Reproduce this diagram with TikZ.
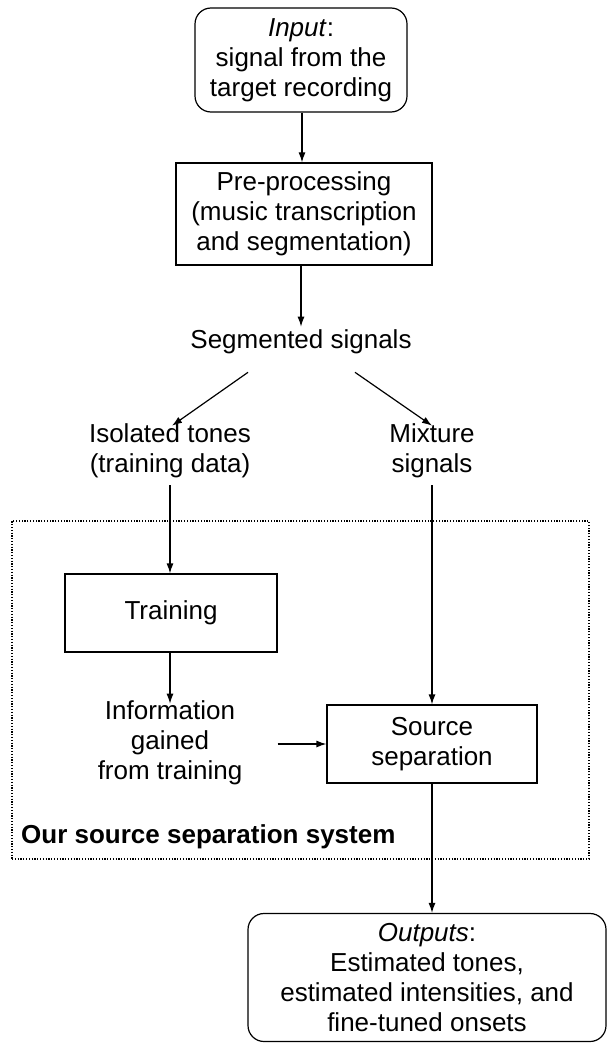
\documentclass[tikz,border=0pt]{standalone}
\usepackage{fontspec}
\setmainfont{Liberation Sans}
\usetikzlibrary{arrows.meta}
\begin{document}
\begin{tikzpicture}[x=1pt,y=-1pt,
  every node/.style={font=\fontsize{26}{30}\selectfont, align=center, inner sep=3pt},
  sqbox/.style={draw, line width=1.2pt},
  rbox/.style={draw, line width=1.2pt, rounded corners=16pt},
  dotbox/.style={draw, line width=1.3pt, dash pattern=on 1.2pt off 1.6pt},
  arr/.style={line width=1.2pt, -{Latex[length=10pt,width=7pt]}}]
\useasboundingbox (0,0) rectangle (608,1043);
\node[rbox, minimum width=212pt, minimum height=104pt] (in) at (301,60) {\textit{Input}:\\signal from the\\target recording};
\node[sqbox, minimum width=256pt, minimum height=102pt] (pre) at (304,214) {Pre-processing\\(music transcription\\and segmentation)};
\node (seg) at (301,342) {Segmented signals};
\node (iso) at (170,451) {Isolated tones\\(training data)};
\node (mix) at (432,451) {Mixture\\signals};
\node[dotbox, minimum width=577pt, minimum height=338pt] (system) at (300.5,690) {};
\node[sqbox, minimum width=212pt, minimum height=78pt] (train) at (171,613) {Training};
\node (info) at (170,743) {Information\\gained\\from training};
\node[sqbox, minimum width=210pt, minimum height=78pt] (sep) at (432,744) {Source\\separation};
\node[anchor=west, font=\fontsize{26}{30}\selectfont\bfseries] (sys) at (18,837) {Our source separation system};
\node[rbox, minimum width=358pt, minimum height=128pt] (out) at (427,977.5) {\textit{Outputs}:\\Estimated tones,\\estimated intensities, and\\fine-tuned onsets};
\draw[arr] (in.south -| 302,0) -- (pre.north -| 302,0);
\draw[arr] (pre.south -| seg) -- (seg.north);
\draw[arr] ([xshift=-53pt,yshift=-15pt]seg.south) -- ([xshift=2pt,yshift=-5pt]iso.north);
\draw[arr] ([xshift=54pt,yshift=-15pt]seg.south) -- ([yshift=-5pt]mix.north);
\draw[arr] ([yshift=-4pt]iso.south) -- (train.north -| iso.south);
\draw[arr] ([yshift=-4pt]mix.south) -- (sep.north);
\draw[arr] (train.south -| info.north) -- ([yshift=-6pt]info.north);
\draw[arr] (train.east |- sep.west) -- (sep.west);
\draw[arr] (sep.south) -- (out.north -| sep.south);
\end{tikzpicture}
\end{document}
